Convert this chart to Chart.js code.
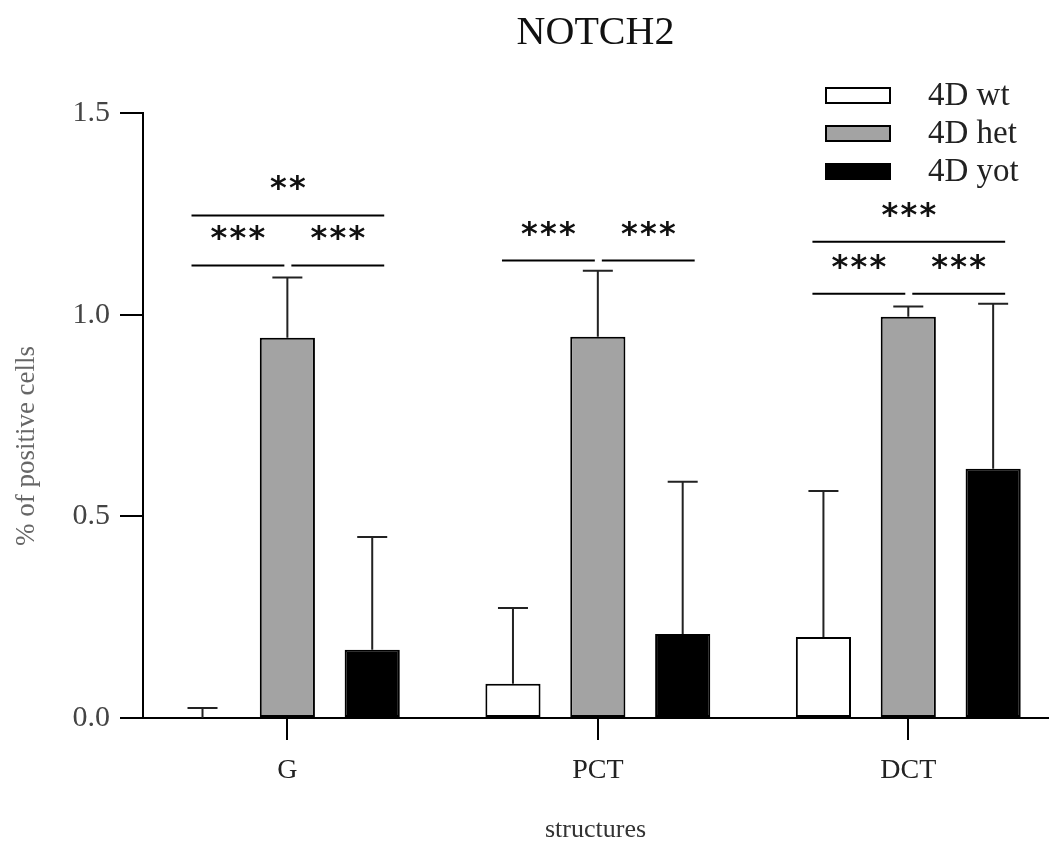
<!DOCTYPE html>
<html>
<head>
<meta charset="utf-8">
<title>NOTCH2</title>
<script src="https://cdn.jsdelivr.net/npm/chart.js@4.4.1/dist/chart.umd.min.js"></script>
<style>
  html, body { margin: 0; padding: 0; background: #fff; }
  #wrap { width: 1051px; height: 848px; }
</style>
</head>
<body>
<div id="wrap"><canvas id="chart" width="1051" height="848"></canvas></div>
<script>
// ── DATA ──
const categories = ['G', 'PCT', 'DCT'];
const groupLabels = ['4D wt', '4D het', '4D yot'];
const wtMean = [0, 0.085, 0.201];
const wtErr = [0.025, 0.188, 0.362];
const hetMean = [0.943, 0.945, 0.995];
const hetErr = [0.149, 0.164, 0.025];
const yotMean = [0.169, 0.208, 0.618];
const yotErr = [0.280, 0.378, 0.409];
const yTicks = [0, 0.5, 1.0, 1.5];

// significance brackets: category, from group, to group, height, stars
const sigCat = [0, 0, 0, 1, 1, 2, 2, 2];
const sigFrom = [0, 1, 0, 0, 1, 0, 1, 0];
const sigTo = [1, 2, 2, 1, 2, 1, 2, 2];
const sigY = [1.122, 1.122, 1.246, 1.134, 1.134, 1.052, 1.052, 1.181];
const sigText = ['***', '***', '**', '***', '***', '***', '***', '***'];

const SERIF = '"Liberation Serif", "DejaVu Serif", serif';
const fills = ['#ffffff', '#a3a3a3', '#000000'];
const means = [wtMean, hetMean, yotMean];
const errs = [wtErr, hetErr, yotErr];

// ── PLUGINS ──

const errorBars = {
  id: 'errorBars',
  afterDatasetsDraw(chart) {
    const ctx = chart.ctx;
    const y = chart.scales.y;
    ctx.save();
    ctx.strokeStyle = '#222';
    ctx.lineWidth = 2;
    chart.data.datasets.forEach((ds, i) => {
      const meta = chart.getDatasetMeta(i);
      meta.data.forEach((bar, j) => {
        const top = y.getPixelForValue(ds.data[j].y + ds.err[j]);
        const base = y.getPixelForValue(ds.data[j].y);
        ctx.beginPath();
        ctx.moveTo(bar.x, base);
        ctx.lineTo(bar.x, top);
        ctx.moveTo(bar.x - 15, top);
        ctx.lineTo(bar.x + 15, top);
        ctx.stroke();
      });
    });
    ctx.restore();
  }
};

function barX(chart, group, cat) {
  return chart.getDatasetMeta(group).data[cat].x;
}

// asterisks sit ~34px above their bracket line
function drawStars(ctx, text, cx, lineY) {
  const step = 19;
  const start = cx - (text.length - 1) * step / 2;
  for (let k = 0; k < text.length; k++) {
    ctx.fillText('*', start + k * step, lineY - 17);
  }
}

const annotations = {
  id: 'annotations',
  afterDraw(chart) {
    const ctx = chart.ctx;
    const y = chart.scales.y;
    ctx.save();

    // brackets
    ctx.strokeStyle = '#000';
    ctx.fillStyle = '#111';
    ctx.lineWidth = 2;
    ctx.font = 'bold 32px "DejaVu Sans", sans-serif';
    ctx.textAlign = 'center';
    ctx.textBaseline = 'alphabetic';
    sigCat.forEach((c, i) => {
      const a = sigFrom[i], b = sigTo[i];
      const x1 = barX(chart, a, c) + (a === 0 ? -11 : 4);
      const x2 = barX(chart, b, c) + (b === 2 ? 12 : -3);
      const py = y.getPixelForValue(sigY[i]);
      ctx.beginPath();
      ctx.moveTo(x1, py);
      ctx.lineTo(x2, py);
      ctx.stroke();
      drawStars(ctx, sigText[i], (x1 + x2) / 2, py);
    });

    // legend
    ctx.textAlign = 'left';
    ctx.textBaseline = 'middle';
    ctx.font = '33px ' + SERIF;
    groupLabels.forEach((lab, i) => {
      const cy = 96 + i * 38;
      ctx.fillStyle = fills[i];
      ctx.fillRect(826, cy - 8, 64, 15);
      ctx.strokeRect(826, cy - 8, 64, 15);
      ctx.fillStyle = '#222';
      ctx.fillText(lab, 928, cy);
    });

    // y axis title
    ctx.save();
    ctx.translate(27, 446);
    ctx.rotate(-Math.PI / 2);
    ctx.textAlign = 'center';
    ctx.textBaseline = 'middle';
    ctx.font = '27px ' + SERIF;
    ctx.fillStyle = '#666';
    ctx.fillText('% of positive cells', 0, 0);
    ctx.restore();

    ctx.restore();
  }
};

// ── CHART ──

new Chart(document.getElementById('chart'), {
  type: 'bar',
  data: {
    datasets: groupLabels.map((lab, i) => ({
      label: lab,
      data: categories.map((c, j) => ({ x: j, y: means[i][j] })),
      err: errs[i],
      backgroundColor: fills[i],
      borderColor: '#000',
      borderWidth: 2,
      borderSkipped: false,
      categoryPercentage: 0.82,
      barPercentage: 0.65,
    }))
  },
  options: {
    responsive: false,
    animation: false,
    layout: { padding: { left: 0, right: 3, top: 0, bottom: 0 } },
    plugins: {
      legend: { display: false },
      tooltip: { enabled: false },
      title: {
        display: true,
        text: 'NOTCH2',
        fullSize: false,
        color: '#111',
        font: { family: SERIF, size: 40, weight: 'normal' },
        padding: { top: 9, bottom: 56 }
      }
    },
    scales: {
      x: {
        type: 'linear',
        min: -0.465,
        max: 2.45,
        offset: false,
        afterBuildTicks: s => { s.ticks = categories.map((c, i) => ({ value: i })); },
        afterFit: s => { s.height = 130; },
        ticks: {
          callback: v => categories[v],
          color: '#222',
          font: { family: SERIF, size: 28 },
          padding: 14,
          maxRotation: 0,
          autoSkip: false
        },
        grid: { display: true, offset: false, drawOnChartArea: false, drawTicks: true, tickLength: 22, color: '#000', lineWidth: 2 },
        border: { display: true, color: '#000', width: 2 },
        title: {
          display: true,
          text: 'structures',
          color: '#333',
          font: { family: SERIF, size: 26 },
          padding: { top: 4, bottom: 2 }
        }
      },
      y: {
        min: 0,
        max: 1.5,
        afterBuildTicks: s => { s.ticks = yTicks.map(v => ({ value: v })); },
        afterFit: s => { s.width = 143; },
        ticks: {
          callback: v => v.toFixed(1),
          color: '#444',
          font: { family: SERIF, size: 30 },
          padding: 10
        },
        grid: { display: true, drawOnChartArea: false, drawTicks: true, tickLength: 23, color: '#000', lineWidth: 2 },
        border: { display: true, color: '#000', width: 2 }
      }
    }
  },
  plugins: [errorBars, annotations]
});
</script>
</body>
</html>
